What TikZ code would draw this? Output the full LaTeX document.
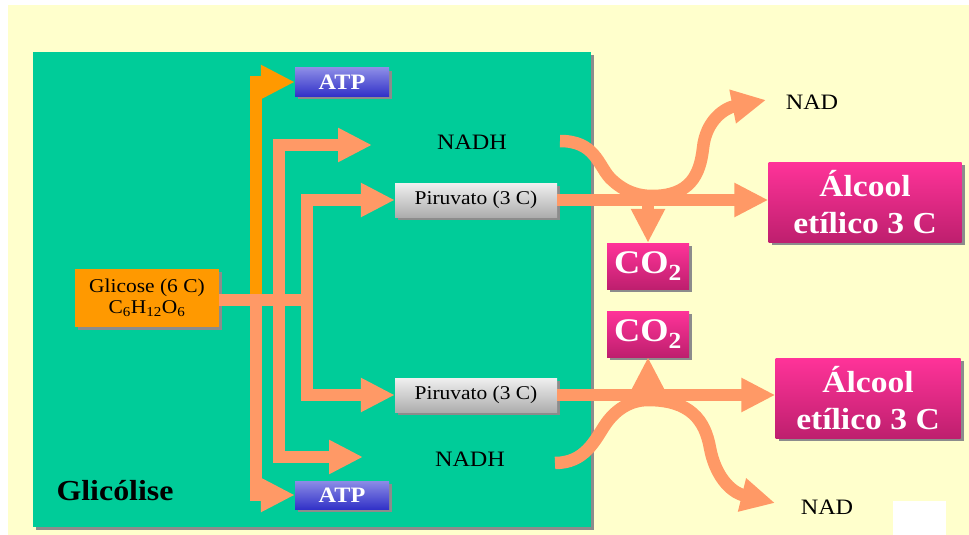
\documentclass[tikz,border=0pt]{standalone}
\usepackage{fontspec}
\setmainfont{Liberation Serif}[FakeStretch=1.1]
\usetikzlibrary{arrows.meta,shadows}

\definecolor{pagebg}{HTML}{FFFFCC}
\definecolor{cellgreen}{HTML}{00CC99}
\definecolor{salmon}{HTML}{FF9966}
\definecolor{glcorange}{HTML}{FF9900}
\definecolor{atptop}{HTML}{8C8CE6}
\definecolor{atpbot}{HTML}{3232C8}
\definecolor{pinktop}{HTML}{FF3399}
\definecolor{pinkbot}{HTML}{BE1F6E}

\begin{document}
\begin{tikzpicture}[x=1pt,y=-1pt,
  tip/.style={-{Triangle[length=34pt,width=32pt]}},
  flow/.style={tip,line width=12.5pt,draw=salmon},
  shadowed/.style={drop shadow={shadow xshift=3pt,shadow yshift=-3pt,fill=black!45,opacity=1}},
  box/.style={shadowed,inner sep=0pt,align=center},
  atpbox/.style={box,top color=atptop,bottom color=atpbot,
    minimum width=94pt,minimum height=28pt,text=white,font=\fontsize{22}{24}\selectfont\bfseries},
  pirbox/.style={box,top color=black!6,bottom color=black!32,
    minimum width=162pt,minimum height=34pt,font=\fontsize{19.5}{21}\selectfont},
  pinkbox/.style={box,top color=pinktop,bottom color=pinkbot,text=white},
  label/.style={font=\fontsize{22}{24}\selectfont}]
\useasboundingbox (0,0) rectangle (969,535);
% page
\fill[white] (0,0) rectangle (969,535);
\fill[pagebg] (8,5) rectangle (969,535);
\fill[white] (893,501) rectangle (946,535);
% glycolysis frame
\fill[cellgreen,shadowed] (33,52) rectangle (591,527);
\node[font=\fontsize{29}{32}\selectfont\bfseries,anchor=base west] (glicolise) at (53,500) {Glicólise};

% boxes
\node[box,fill=glcorange,minimum width=144pt,minimum height=58pt,
  font=\fontsize{19.5}{21}\selectfont] (glc) at (147,298)
  {Glicose (6 C)\\C\textsubscript{6}H\textsubscript{12}O\textsubscript{6}};
\node[atpbox] (atp1) at (342,82) {ATP};
\node[atpbox] (atp2) at (342,495) {ATP};
\node[pirbox] (piru1) at (476,200) {Piruvato (3 C)};
\node[pirbox] (piru2) at (476,395) {Piruvato (3 C)};
\node[label] (nadh1) at (472,142) {NADH};
\node[label] (nadh2) at (470,459) {NADH};
\node[label] (nad1) at (812,102) {NAD};
\node[label] (nad2) at (827,507) {NAD};
\node[pinkbox,minimum width=82pt,minimum height=46pt,font=\fontsize{33}{35}\selectfont\bfseries]
  (co2a) at (648,266) {CO\textsubscript{2}};
\node[pinkbox,minimum width=82pt,minimum height=46pt,font=\fontsize{33}{35}\selectfont\bfseries]
  (co2b) at (648,334) {CO\textsubscript{2}};
\node[pinkbox,minimum width=193pt,minimum height=80pt,font=\fontsize{30.5}{37}\selectfont\bfseries]
  (alc1) at (865,202) {Álcool\\etílico 3 C};
\node[pinkbox,minimum width=185pt,minimum height=80pt,font=\fontsize{30.5}{37}\selectfont\bfseries]
  (alc2) at (868,398) {Álcool\\etílico 3 C};

% branch points and free arrow ends
\coordinate (j1) at (256,300);
\coordinate (j2) at (279,300);
\coordinate (j3) at (307,300);
\coordinate (nadhin1) at (372,145);
\coordinate (nadhin2) at (363,457);
\coordinate (nadhout1) at (560,141);
\coordinate (nadhout2) at (555,463);
\coordinate (nadtip1) at (766,100);
\coordinate (nadtip2) at (775,503);

% glycolysis arrows
\draw[flow] (j1) |- (atp2.west);
\draw[tip,line width=12.5pt,draw=glcorange] (j1) |- (atp1.west);
\draw[flow] (j2) |- (nadhin1);
\draw[flow] (j2) |- (nadhin2);
\draw[flow] (j3) |- (piru1.west);
\draw[flow] (j3) |- (piru2.west);
\draw[line width=12.5pt,salmon] (glc.east |- j1) -- (j3);

% fermentation, top
\draw[flow] (nadhout1) .. controls (595,141) and (598,165) .. (610,178)
  .. controls (625,193) and (640,196) .. (652,196)
  .. controls (690,196) and (700,175) .. (703,148)
  .. controls (706,120) and (725,108) .. (nadtip1);
\draw[flow] (piru1.east) -- (piru1.east -| alc1.west);
\draw[flow] (co2a.north |- piru1.east) -- (co2a.north);

% fermentation, bottom
\draw[flow] (nadhout2) .. controls (585,463) and (595,440) .. (605,425)
  .. controls (615,410) and (630,400) .. (648,400)
  .. controls (690,400) and (705,420) .. (710,448)
  .. controls (715,475) and (730,492) .. (nadtip2);
\draw[flow] (piru2.east) -- (piru2.east -| alc2.west);
\draw[flow] (co2b.south |- piru2.east) -- (co2b.south);
\end{tikzpicture}
\end{document}
